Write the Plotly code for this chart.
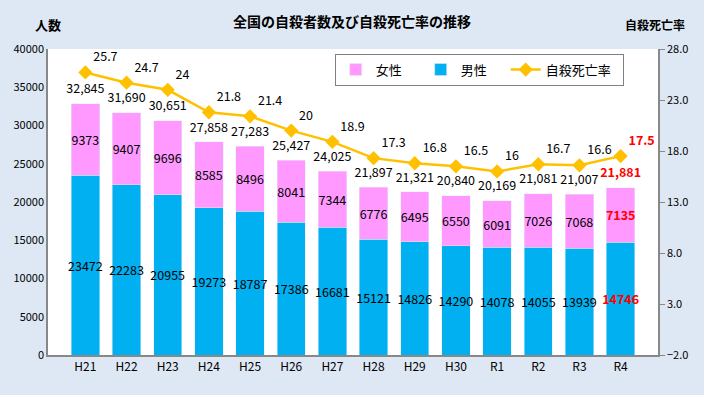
import plotly.graph_objects as go

years = ["H21", "H22", "H23", "H24", "H25", "H26", "H27", "H28", "H29", "H30", "R1", "R2", "R3", "R4"]
male = [23472, 22283, 20955, 19273, 18787, 17386, 16681, 15121, 14826, 14290, 14078, 14055, 13939, 14746]
female = [9373, 9407, 9696, 8585, 8496, 8041, 7344, 6776, 6495, 6550, 6091, 7026, 7068, 7135]
total = [32845, 31690, 30651, 27858, 27283, 25427, 24025, 21897, 21321, 20840, 20169, 21081, 21007, 21881]
rate = [25.7, 24.7, 24, 21.8, 21.4, 20, 18.9, 17.3, 16.8, 16.5, 16, 16.7, 16.6, 17.5]
rate_labels = ["25.7", "24.7", "24", "21.8", "21.4", "20", "18.9", "17.3", "16.8", "16.5", "16", "16.7", "16.6", "17.5"]

last = len(years) - 1
def colors(n):
    return ["#FF0000" if i == last else "#000000" for i in range(n)]
def fmt(vals, comma=False):
    out = []
    for i, v in enumerate(vals):
        s = f"{v:,}" if comma else str(v)
        out.append(f"<b>{s}</b>" if i == last else s)
    return out

FONT = "Noto Sans CJK JP"
fig = go.Figure()
fig.add_trace(go.Bar(x=years, y=male, name="男性", marker_color="#00B0F0",
                     text=fmt(male), textposition="inside", insidetextanchor="middle",
                     constraintext="none",
                     textangle=0, textfont=dict(color=colors(len(male)), size=12.5, family=FONT),
                     legendrank=2, legendwidth=40))
fig.add_trace(go.Bar(x=years, y=female, name="女性", marker_color="#FF99FF",
                     text=fmt(female), textposition="inside", insidetextanchor="middle",
                     constraintext="none",
                     textangle=0, textfont=dict(color=colors(len(female)), size=12.5, family=FONT),
                     legendrank=1, legendwidth=40))
fig.add_trace(go.Scatter(x=years, y=total, mode="markers+text", text=fmt(total, True),
                         marker=dict(size=10, opacity=0), hoverinfo="skip",
                         textposition="top center", showlegend=False,
                         textfont=dict(color=colors(len(total)), size=12.5, family=FONT)))
fig.add_trace(go.Scatter(x=years, y=rate, yaxis="y2", name="自殺死亡率",
                         mode="lines+markers+text", line=dict(color="#FFC000", width=2.5),
                         marker=dict(symbol="diamond", size=11, color="#FFC000"),
                         text=[f"<b>{t}</b>" if i == last else t for i, t in enumerate(rate_labels)],
                         textposition="top right",
                         textfont=dict(color=colors(len(rate)), size=12.5, family=FONT),
                         legendrank=3, legendwidth=72))

fig.update_layout(
    width=704, height=395,
    margin=dict(l=48, r=46, t=49, b=40, autoexpand=False),
    paper_bgcolor="#DEE8F4", plot_bgcolor="#FFFFFF",
    barmode="stack", bargap=0.31,
    font=dict(family=FONT, size=11, color="#000000"),
    xaxis=dict(showline=True, linecolor="#888888", linewidth=1.5, ticks="",
               tickfont=dict(size=12), fixedrange=True, automargin=False),
    yaxis=dict(range=[0, 40000], dtick=5000, tickformat="d", showgrid=False, showline=True,
               linecolor="#888888", linewidth=1.5, ticks="", tickfont=dict(size=11),
               automargin=False),
    yaxis2=dict(range=[-2, 28], tick0=-2, dtick=5, tickformat=".1f", overlaying="y", side="right",
                showgrid=False, showline=True, linecolor="#888888", linewidth=1.5,
                ticks="outside", ticklen=5, tickcolor="#888888", tickfont=dict(size=11),
                automargin=False),
    legend=dict(orientation="h", x=0.47, y=0.985, xanchor="left", yanchor="top",
                bgcolor="#FFFFFF", bordercolor="#808080", borderwidth=1,
                font=dict(size=13), traceorder="normal", itemwidth=30),
    title=dict(text="<b>全国の自殺者数及び自殺死亡率の推移</b>", x=0.5, xanchor="center",
               y=0.945, yanchor="middle", font=dict(size=14), automargin=False),
    annotations=[
        dict(text="<b>人数</b>", xref="paper", yref="paper", x=0.0, y=1.08,
             xanchor="center", yanchor="middle", showarrow=False, font=dict(size=13)),
        dict(text="<b>自殺死亡率</b>", xref="paper", yref="paper", x=0.995, y=1.08,
             xanchor="center", yanchor="middle", showarrow=False, font=dict(size=12)),
    ],
)
fig.write_html("out.html", config={"displayModeBar": False},
               post_script="document.body.style.margin='0px';")
